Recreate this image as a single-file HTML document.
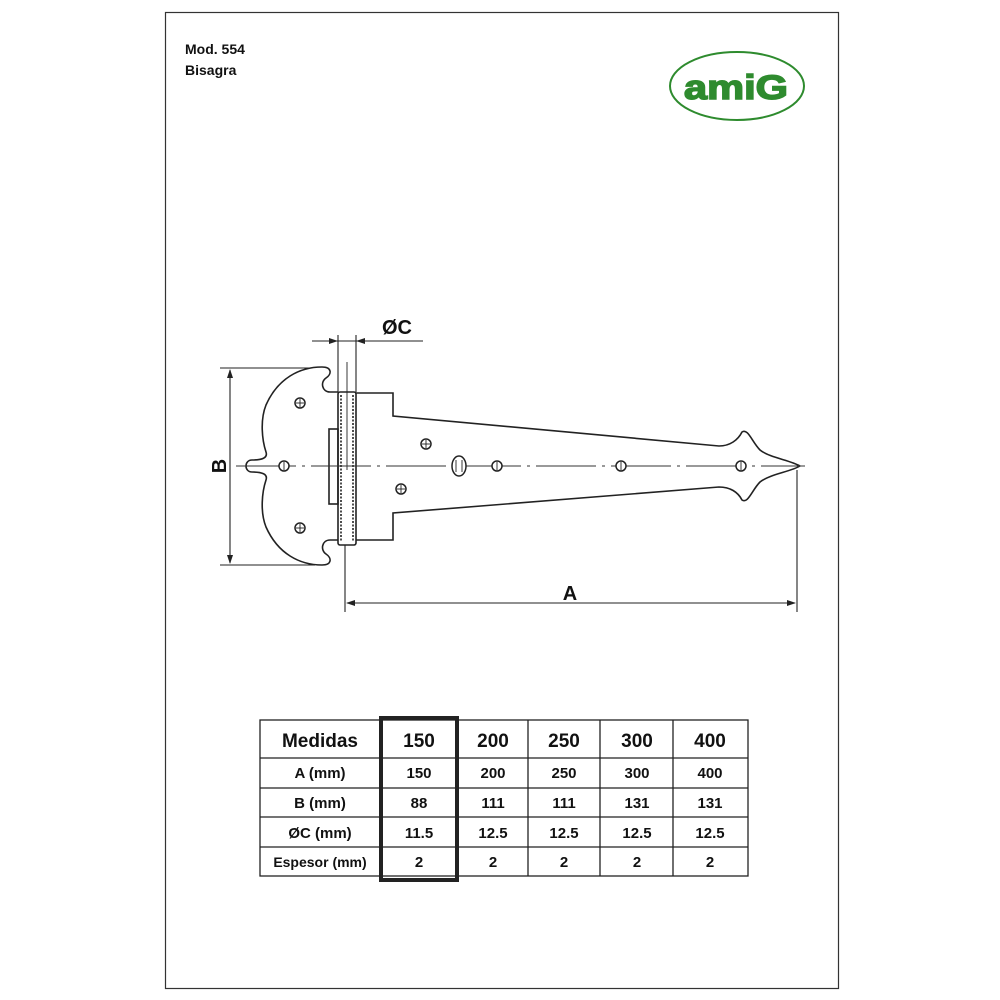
<!DOCTYPE html>
<html><head><meta charset="utf-8"><style>
html,body{margin:0;padding:0;background:#fff}
svg{display:block}
text{font-family:"Liberation Sans",Arial,sans-serif;font-weight:bold;fill:#111}
</style></head><body>
<svg width="1000" height="1000" viewBox="0 0 1000 1000" xmlns="http://www.w3.org/2000/svg">
<rect x="165.5" y="12.5" width="673" height="976" fill="none" stroke="#333" stroke-width="1.2"/>
<text x="185" y="54" font-size="14">Mod. 554</text>
<text x="185" y="75" font-size="14">Bisagra</text>
<!-- logo -->
<ellipse cx="737" cy="86" rx="67" ry="34" fill="none" stroke="#2e8b2e" stroke-width="2"/>
<text x="684" y="99" font-size="34" textLength="104" lengthAdjust="spacingAndGlyphs" style="fill:#2e8b2e;font-family:'Liberation Sans',sans-serif;font-weight:900;stroke:#2e8b2e;stroke-width:1.5">amiG</text>
<!-- hinge -->
<g fill="none" stroke="#222" stroke-width="1.6">
<path d="M338,392 L330,392 C322,392 320,382 326,378 C332,374 332,367 322,367 C300,367 278,378 266,405 C260,420 262,440 266,452 C268,458 262,460 252,460 C244,460 244,472 252,472 C262,472 268,474 266,480 C262,492 260,512 266,527 C278,554 300,565 322,565 C332,565 332,558 326,554 C320,550 322,540 330,540 L338,540"/>
<rect x="329" y="429" width="9" height="75"/>
<rect x="338" y="392" width="18" height="153" rx="2"/>
<line x1="341" y1="395" x2="341" y2="542" stroke-dasharray="2,1.5"/>
<line x1="353" y1="395" x2="353" y2="542" stroke-dasharray="2,1.5"/>
<line x1="347" y1="362" x2="347" y2="470" stroke-width="0.9"/>
<path d="M356,393 L393,393 L393,416 L719,446 C730,446 738,440 742,432 C748,428 752,442 760,450 C770,458 790,460 800,466 C790,472 770,474 760,482 C752,490 748,504 742,500 C738,492 730,487 719,487 L393,513 L393,540 L356,540"/>
</g>
<line x1="236" y1="466" x2="805" y2="466" stroke="#333" stroke-width="1" stroke-dasharray="60,6,3,6"/>
<g fill="#fff" stroke="#222" stroke-width="1.5">
<circle cx="300" cy="403" r="5"/><circle cx="284" cy="466" r="5"/><circle cx="300" cy="528" r="5"/>
<circle cx="426" cy="444" r="5"/><circle cx="401" cy="489" r="5"/><circle cx="497" cy="466" r="5"/>
<circle cx="621" cy="466" r="5"/><circle cx="741" cy="466" r="5"/>
<ellipse cx="459" cy="466" rx="7" ry="10"/>
</g>
<g stroke="#222" stroke-width="0.9">
<line x1="300" y1="399" x2="300" y2="407"/><line x1="296" y1="403" x2="304" y2="403"/>
<line x1="300" y1="524" x2="300" y2="532"/><line x1="296" y1="528" x2="304" y2="528"/>
<line x1="426" y1="440" x2="426" y2="448"/><line x1="422" y1="444" x2="430" y2="444"/>
<line x1="401" y1="485" x2="401" y2="493"/><line x1="397" y1="489" x2="405" y2="489"/>
<line x1="284" y1="462" x2="284" y2="470"/><line x1="497" y1="462" x2="497" y2="470"/>
<line x1="621" y1="462" x2="621" y2="470"/><line x1="741" y1="462" x2="741" y2="470"/>
<line x1="456" y1="460" x2="456" y2="472"/><line x1="462" y1="460" x2="462" y2="472"/>
</g>
<g stroke="#222" stroke-width="1.1" fill="none">
<line x1="220" y1="368" x2="310" y2="368"/><line x1="220" y1="565" x2="315" y2="565"/>
<line x1="230" y1="370" x2="230" y2="563"/>
<line x1="338" y1="335" x2="338" y2="392"/><line x1="356" y1="335" x2="356" y2="392"/>
<line x1="312" y1="341" x2="423" y2="341"/>
<line x1="345" y1="545" x2="345" y2="612"/><line x1="797" y1="470" x2="797" y2="612"/>
<line x1="347" y1="603" x2="795" y2="603"/>
</g>
<g fill="#222">
<path d="M230,369 l-3,9 h6z"/><path d="M230,564 l-3,-9 h6z"/>
<path d="M338,341 l-9,-3 v6z"/><path d="M356,341 l9,-3 v6z"/>
<path d="M346,603 l9,-3 v6z"/><path d="M796,603 l-9,-3 v6z"/>
</g>
<text x="382" y="334" font-size="20">ØC</text>
<text x="570" y="600" font-size="20" text-anchor="middle">A</text>
<text x="226" y="466" font-size="20" text-anchor="middle" transform="rotate(-90 226 466)">B</text>
<g stroke="#222" stroke-width="1.3" fill="none">
<rect x="260" y="720" width="488" height="156"/>
<line x1="260" y1="758" x2="748" y2="758"/><line x1="260" y1="788" x2="748" y2="788"/>
<line x1="260" y1="817" x2="748" y2="817"/><line x1="260" y1="847" x2="748" y2="847"/>
<line x1="528" y1="720" x2="528" y2="876"/><line x1="600" y1="720" x2="600" y2="876"/>
<line x1="673" y1="720" x2="673" y2="876"/>
<rect x="381" y="718" width="76" height="162" stroke-width="4"/>
</g>
<g font-size="15" text-anchor="middle">
<text x="320" y="747" font-size="19">Medidas</text>
<text x="419" y="747" font-size="19">150</text><text x="493" y="747" font-size="19">200</text>
<text x="564" y="747" font-size="19">250</text><text x="637" y="747" font-size="19">300</text><text x="710" y="747" font-size="19">400</text>
<text x="320" y="778">A (mm)</text><text x="419" y="778">150</text><text x="493" y="778">200</text><text x="564" y="778">250</text><text x="637" y="778">300</text><text x="710" y="778">400</text>
<text x="320" y="808">B (mm)</text><text x="419" y="808">88</text><text x="493" y="808">111</text><text x="564" y="808">111</text><text x="637" y="808">131</text><text x="710" y="808">131</text>
<text x="320" y="838">ØC (mm)</text><text x="419" y="838">11.5</text><text x="493" y="838">12.5</text><text x="564" y="838">12.5</text><text x="637" y="838">12.5</text><text x="710" y="838">12.5</text>
<text x="320" y="867" font-size="14">Espesor (mm)</text><text x="419" y="867">2</text><text x="493" y="867">2</text><text x="564" y="867">2</text><text x="637" y="867">2</text><text x="710" y="867">2</text>
</g>
</svg>
</body></html>
